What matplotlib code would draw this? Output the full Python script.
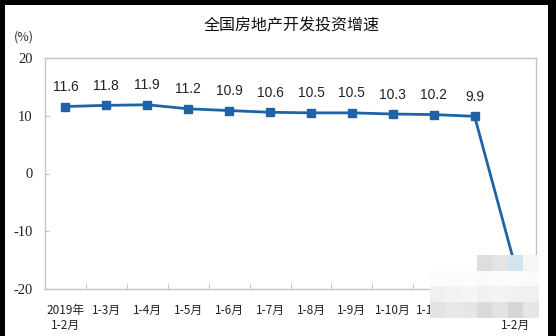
import numpy as np
import matplotlib
matplotlib.use("Agg")
import matplotlib.pyplot as plt
from matplotlib.patches import Rectangle

plt.rcParams['font.family'] = ['Noto Sans CJK SC', 'DejaVu Sans']

# Cumulative year-on-year growth of national real-estate development investment (%)
categories = ["2019年\n1-2月", "1-3月", "1-4月", "1-5月", "1-6月", "1-7月",
              "1-8月", "1-9月", "1-10月", "1-11月", "1-12月", "2020年\n1-2月"]
growth = [11.6, 11.8, 11.9, 11.2, 10.9, 10.6, 10.5, 10.5, 10.3, 10.2, 9.9, -16.3]
y_ticks = [-20, -10, 0, 10, 20]
title = "全国房地产开发投资增速"
unit = "(%)"

W, H = 556, 336
fig = plt.figure(figsize=(W / 100, H / 100), dpi=100)
fig.patch.set_facecolor("white")

ax = fig.add_axes([45 / W, 1 - 289 / H, (536 - 45) / W, (289 - 58) / H])
x = np.arange(len(categories))
line_color = "#1f63a6"
ax.plot(x, growth, color=line_color, lw=2.0, marker="s", ms=5.5,
        mfc=line_color, mec=line_color, zorder=3)

for xi, v in zip(x, growth):
    if v >= 0:
        ax.annotate(f"{v:.1f}", (xi, v), xytext=(0, 9), textcoords="offset points",
                    ha="center", va="bottom", fontsize=10, color="#222222",
                    family="Liberation Sans")
    else:
        ax.annotate(f"{v:.1f}", (xi, v), xytext=(0, -8), textcoords="offset points",
                    ha="center", va="top", fontsize=10, color="#222222",
                    family="Liberation Sans")

ax.set_xlim(-0.5, len(categories) - 0.5)
ax.set_ylim(-20, 20)
ax.set_yticks(y_ticks)
ax.set_yticklabels([str(t) for t in y_ticks], family="Liberation Serif", fontsize=10.5,
                   color="#222222")
ax.set_xticks(x)
ax.set_xticklabels(categories, fontsize=8.5, color="#222222", linespacing=1.15)
ax.set_xticks(np.arange(0.5, len(categories) - 0.5, 1.0), minor=True)
ax.tick_params(axis="x", which="major", length=0, pad=11)
ax.tick_params(axis="x", which="minor", direction="in", length=4, color="#bfbfbf")
ax.tick_params(axis="y", direction="in", length=3, color="#bfbfbf", pad=9)
for sp in ax.spines.values():
    sp.set_color("#c4c4c4")
    sp.set_linewidth(1.0)

fig.text(292 / W, 1 - 26 / H, title, ha="center", va="center", fontsize=11.5,
         color="#111111")
fig.text(24 / W, 1 - 37 / H, unit, ha="center", va="center", fontsize=9,
         color="#333333")

# pixelated patch over the lower right corner
mosaic = np.array([
    [None, None, None, "#dedede", "#e4e4e4", "#d4e4ee", "#f6f6f6"],
    ["#fcfcfc", "#fbfbfb", "#fcfcfc", "#fafafa", "#fbfbfb", "#fbfbfb", "#fafafa"],
    ["#f0f0f0", "#f3f3f3", "#f5f5f5", "#f1f1f1", "#f3f3f3", "#f1f1f1", "#f0f0f0"],
    ["#e3e3e3", "#e8e8e8", "#e6e6e6", "#dadada", "#e2e2e2", "#d6d6d6", "#e6e6e6"],
], dtype=object)
rgba = np.zeros(mosaic.shape + (4,))
for (r, c), col in np.ndenumerate(mosaic):
    if col is not None:
        rgba[r, c] = matplotlib.colors.to_rgba(col)
mx0, mx1, my0, my1 = 430, 539, 255, 318
max_ = fig.add_axes([mx0 / W, 1 - my1 / H, (mx1 - mx0) / W, (my1 - my0) / H], zorder=10)
max_.imshow(rgba, interpolation="nearest", aspect="auto")
max_.axis("off")

# dark frame edges
for (x0, y0, w, h) in [(0, 0, 5, H), (0, H - 5, W, 5), (548, 0, W - 548, H)]:
    fig.add_artist(Rectangle((x0 / W, y0 / H), w / W, h / H, transform=fig.transFigure,
                             facecolor="black", edgecolor="none", zorder=20))

fig.savefig("out.png", dpi=100)
